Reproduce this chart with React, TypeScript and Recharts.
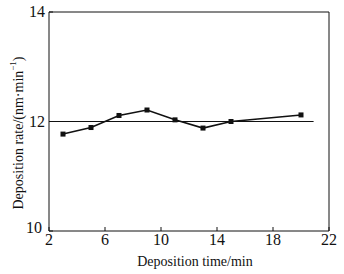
import React from 'react';
import { LineChart, Line, XAxis, YAxis, ReferenceLine, Label } from 'recharts';

const times = [3, 5, 7, 9, 11, 13, 15, 20];
const rates = [11.77, 11.89, 12.11, 12.21, 12.03, 11.88, 12.0, 12.12];
const xTicks = [2, 6, 10, 14, 18, 22];
const yTicks = [10, 12, 14];
const targetRate = 12;
const targetSpan = [2.2, 20.9];

const data = times.map((t, i) => ({ t, rate: rates[i] }));

const font = '"Liberation Serif", "DejaVu Serif", serif';

const Square = (props: any) => {
  const { cx, cy } = props;
  if (cx == null || cy == null) return null;
  return <rect x={cx - 2.5} y={cy - 2.5} width={5} height={5} fill="#111" />;
};

// ticks point inward, labels sit outside
const XTick = (props: any) => {
  const { x, y, payload } = props;
  return (
    <g>
      <line x1={x} y1={y} x2={x} y2={y - 4} stroke="#111" />
      <text x={x} y={y + 14} textAnchor="middle" fontFamily={font} fontSize={16} fill="#111">
        {payload.value}
      </text>
    </g>
  );
};

const YTick = (props: any) => {
  const { x, y, payload, index } = props;
  // bottom label is lifted a bit so it clears the x labels
  const lift = index === 0 ? 3 : 0;
  return (
    <g>
      <line x1={x} y1={y} x2={x + 4} y2={y} stroke="#111" />
      <text x={x - 4 - lift} y={y + 5 - lift} textAnchor="end" fontFamily={font} fontSize={16} fill="#111">
        {payload.value}
      </text>
    </g>
  );
};

const XTitle = (props: any) => {
  const { viewBox } = props;
  return (
    <text x={viewBox.x + viewBox.width / 2 + 6} y={266} textAnchor="middle" fontFamily={font} fontSize={14} fill="#111">
      Deposition time/min
    </text>
  );
};

const YTitle = () => (
  <text
    x={18}
    y={133}
    transform="rotate(-90, 18, 133)"
    textAnchor="middle"
    dominantBaseline="central"
    fontFamily={font}
    fontSize={14}
    fill="#111"
  >
    Deposition rate/(nm·min
    <tspan baselineShift="super" fontSize={9}>−1</tspan>)
  </text>
);

export default function App() {
  return (
    <div style={{ position: 'absolute', left: 0, top: 0, background: '#fff' }}>
      <LineChart width={344} height={274} data={data} margin={{ top: 12, right: 15, left: 0, bottom: 0 }}>
        <XAxis
          dataKey="t"
          type="number"
          domain={[2, 22]}
          ticks={xTicks}
          tickLine={false}
          tickSize={0}
          tickMargin={0}
          height={43}
          stroke="#111"
          tick={<XTick />}
          interval={0}
        >
          <Label content={<XTitle />} />
        </XAxis>
        <YAxis
          type="number"
          domain={[10, 14]}
          ticks={yTicks}
          tickLine={false}
          tickSize={0}
          tickMargin={0}
          width={49}
          stroke="#111"
          tick={<YTick />}
          interval={0}
        >
          <Label content={<YTitle />} />
        </YAxis>
        <ReferenceLine y={14} stroke="#111" strokeWidth={1} />
        <ReferenceLine x={22} stroke="#111" strokeWidth={1} />
        <ReferenceLine
          segment={[{ x: targetSpan[0], y: targetRate }, { x: targetSpan[1], y: targetRate }]}
          stroke="#111"
          strokeWidth={1}
        />
        <Line
          dataKey="rate"
          stroke="#111"
          strokeWidth={1.6}
          dot={<Square />}
          isAnimationActive={false}
        />
      </LineChart>
    </div>
  );
}
